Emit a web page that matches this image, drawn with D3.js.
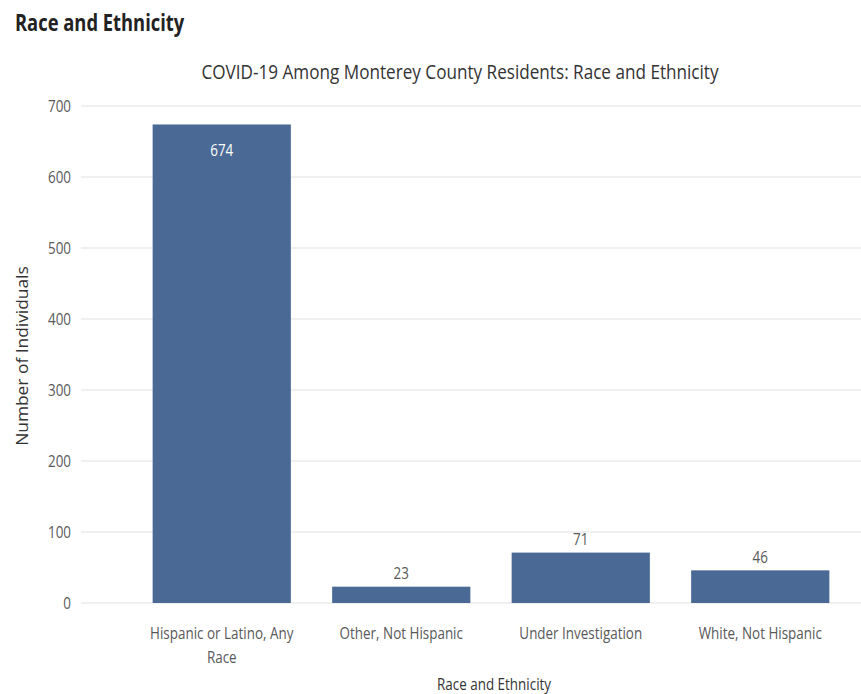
<!DOCTYPE html>
<html><head><meta charset="utf-8">
<script src="https://cdn.jsdelivr.net/npm/d3@7/dist/d3.min.js"></script>
<style>body{margin:0;background:#fff;} svg{display:block;}</style>
</head><body>
<svg id="c" width="861" height="694"></svg>
<script>
const categories = ["Hispanic or Latino, Any Race", "Other, Not Hispanic", "Under Investigation", "White, Not Hispanic"];
const categoryLines = [["Hispanic or Latino, Any", "Race"], ["Other, Not Hispanic"], ["Under Investigation"], ["White, Not Hispanic"]];
const values = [674, 23, 71, 46];
const yTicks = [0, 100, 200, 300, 400, 500, 600, 700];

const svg = d3.select("#c");
const FONT = "'Open Sans', sans-serif";
const SX = 0.84; // condensed look

function ctext(g, x, y, str, opts) {
  return g.append("text")
    .attr("transform", `translate(${x},${y}) scale(${opts.sx || SX},1)`)
    .attr("text-anchor", opts.anchor || "middle")
    .attr("dominant-baseline", "central")
    .attr("font-family", opts.font || FONT)
    .attr("font-size", opts.size)
    .attr("font-weight", opts.weight || "normal")
    .attr("fill", opts.fill || "#595959")
    .text(str);
}

const y = d3.scaleLinear().domain([0, 700]).range([603, 106]);
const x = d3.scaleBand().domain(categories).range([132, 850]).paddingInner(0.23).paddingOuter(0.115);

// gridlines
svg.append("g").selectAll("line").data(yTicks).join("line")
  .attr("x1", 81).attr("x2", 861)
  .attr("y1", d => y(d)).attr("y2", d => y(d))
  .attr("stroke", "#ebebeb").attr("stroke-width", 1.5);

// y tick labels
yTicks.forEach(v => ctext(svg, 71, y(v), String(v), {size: 16, anchor: "end", fill: "#595959"}));

// bars
svg.append("g").selectAll("rect").data(categories).join("rect")
  .attr("x", d => x(d)).attr("width", x.bandwidth())
  .attr("y", (d, i) => y(values[i])).attr("height", (d, i) => y(0) - y(values[i]))
  .attr("fill", "#4a6a95");

// value labels
categories.forEach((c, i) => {
  const v = values[i];
  const cx = x(c) + x.bandwidth() / 2;
  if (y(0) - y(v) > 150) {
    ctext(svg, cx, y(v) + 25, String(v), {size: 16, fill: "#ffffff"});
  } else {
    ctext(svg, cx, y(v) - 14, String(v), {size: 16, fill: "#595959"});
  }
});

// x tick labels
categories.forEach((c, i) => {
  const cx = x(c) + x.bandwidth() / 2;
  categoryLines[i].forEach((ln, j) => ctext(svg, cx, 633 + j * 24, ln, {size: 16, fill: "#595959"}));
});

// axis titles
ctext(svg, 494, 684, "Race and Ethnicity", {size: 16, fill: "#333333"});
svg.append("text")
  .attr("transform", "translate(22,356) rotate(-90) scale(1.12,1)")
  .attr("text-anchor", "middle").attr("dominant-baseline", "central")
  .attr("font-family", FONT).attr("font-size", 15.5).attr("fill", "#333333")
  .text("Number of Individuals");

// titles
ctext(svg, 460, 71, "COVID-19 Among Monterey County Residents: Race and Ethnicity", {size: 20.4, fill: "#333333"});
ctext(svg, 15, 22, "Race and Ethnicity", {size: 22.4, weight: "bold", anchor: "start", fill: "#222222", sx: 0.82});
</script>
</body></html>
